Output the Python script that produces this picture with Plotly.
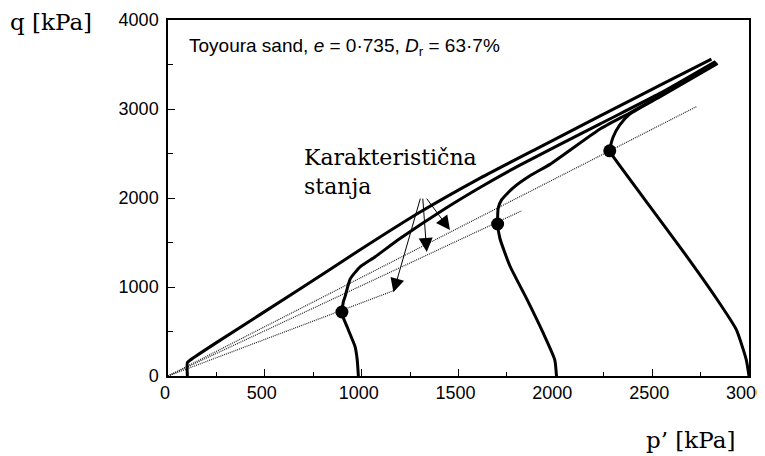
import plotly.graph_objects as go

# Stress paths (p' [kPa], q [kPa])
p_100 = [100, 100, 115, 250, 683, 1000, 1300, 1600, 1900, 2229, 2539, 2806]
q_100 = [0, 150, 180, 375, 980, 1430, 1840, 2210, 2550, 2920, 3265, 3560]

p_1000 = [983, 977, 966, 941, 924, 899, 905, 915, 941, 992, 1070, 1198, 1430, 1620, 1817, 2229, 2539, 2827]
q_1000 = [0, 182, 330, 466, 557, 693, 830, 898, 1091, 1227, 1341, 1545, 1880, 2130, 2370, 2830, 3175, 3534]

p_2000 = [2006, 1997, 1936, 1853, 1765, 1714, 1702, 1705, 1723, 1782, 1869, 1972, 2229, 2384, 2539, 2832]
q_2000 = [0, 182, 489, 864, 1239, 1545, 1708, 1886, 1981, 2114, 2250, 2378, 2773, 2955, 3148, 3523]

p_3000 = [3000, 2986, 2934, 2827, 2657, 2487, 2315, 2281, 2298, 2332, 2384, 2539, 2838]
q_3000 = [0, 182, 523, 886, 1409, 1909, 2417, 2530, 2682, 2818, 2943, 3136, 3511]

# Characteristic states
cs_p = [898, 1702, 2281]
cs_q = [719, 1708, 2530]

# Dotted lines from origin
line_end_p = [1164, 1826, 2728]
line_end_q = [958, 1856, 3026]

# Arrow tails and tips
arrow_tail_p = [1305, 1315, 1330]
arrow_tail_q = [2010, 2010, 2010]
arrow_tip_p = [1164, 1336, 1456]
arrow_tip_q = [940, 1394, 1640]

fig = go.Figure()

for ep, eq in zip(line_end_p, line_end_q):
    fig.add_trace(go.Scatter(x=[0, ep], y=[0, eq], mode="lines",
                             line=dict(color="#222222", width=1.2, dash="1px,1px"),
                             showlegend=False, hoverinfo="skip"))

for px, qy in [(p_100, q_100), (p_1000, q_1000), (p_2000, q_2000), (p_3000, q_3000)]:
    fig.add_trace(go.Scatter(x=px, y=qy, mode="lines",
                             line=dict(color="black", width=3, shape="spline", smoothing=0.5),
                             showlegend=False, hoverinfo="skip"))

fig.add_trace(go.Scatter(x=cs_p, y=cs_q, mode="markers",
                         marker=dict(color="black", size=13),
                         showlegend=False, hoverinfo="skip"))

for tp, tq, hp, hq in zip(arrow_tail_p, arrow_tail_q, arrow_tip_p, arrow_tip_q):
    fig.add_annotation(x=hp, y=hq, ax=tp, ay=tq, xref="x", yref="y", axref="x", ayref="y",
                       showarrow=True, arrowhead=2, arrowsize=2.8, arrowwidth=1,
                       arrowcolor="black", standoff=0, text="")

fig.add_annotation(x=692, y=2290, xref="x", yref="y", xanchor="left", yanchor="middle",
                   text="Karakteristična<br>stanja", showarrow=False, align="left",
                   font=dict(family="DejaVu Serif", size=22, color="black"))

fig.add_annotation(x=0.033, y=0.925, xref="paper", yref="paper", xanchor="left", yanchor="middle",
                   text="Toyoura sand, <i>e</i> = 0·735, <i>D</i><sub>r</sub> = 63·7%", showarrow=False,
                   font=dict(family="Liberation Sans, Arial", size=19, color="black"))

fig.add_annotation(x=(51 - 168) / 581, y=(376 - 22) / 356, xref="paper", yref="paper",
                   xanchor="center", yanchor="middle", showarrow=False,
                   text="q [kPa]", font=dict(family="DejaVu Serif", size=23, color="black"))

fig.add_annotation(x=(690 - 168) / 581, y=(376 - 440) / 356, xref="paper", yref="paper",
                   xanchor="center", yanchor="middle", showarrow=False, text="p’ [kPa]",
                   font=dict(family="DejaVu Serif", size=23, color="black"))

axis_common = dict(showline=True, mirror=True, linecolor="black", linewidth=1.5,
                   ticks="inside", tickwidth=1.3, tickcolor="black", ticklen=7,
                   showgrid=False, zeroline=False, automargin=False,
                   tickfont=dict(family="Liberation Sans, Arial", size=18, color="black"))

fig.update_xaxes(range=[0, 3000], dtick=500, tick0=0, ticklabelshift=-3,
                 minor=dict(dtick=250, ticks="inside", ticklen=4, tickcolor="black", tickwidth=1.2),
                 **axis_common)
fig.update_yaxes(range=[0, 4000], dtick=1000, tick0=0, ticklabelstandoff=4,
                 minor=dict(dtick=500, ticks="inside", ticklen=5, tickcolor="black", tickwidth=1.2),
                 **axis_common)

fig.update_layout(width=765, height=456,
                  margin=dict(l=160, r=24, t=12, b=88, autoexpand=False),
                  plot_bgcolor="white", paper_bgcolor="white")

fig.write_html("out.html")
